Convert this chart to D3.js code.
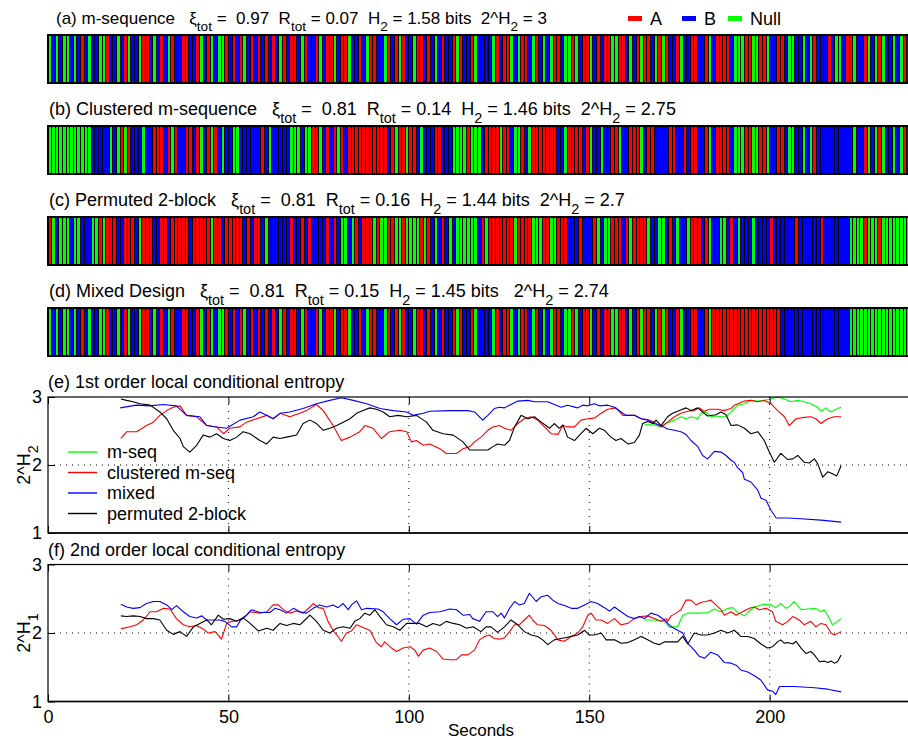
<!DOCTYPE html>
<html><head><meta charset="utf-8">
<script src="https://cdn.jsdelivr.net/npm/d3@7"></script>
<style>
body{margin:0;background:#fff}
svg text{font-family:"Liberation Sans",Arial,Helvetica,sans-serif;fill:#000}
</style></head>
<body><svg id="c" width="908" height="740"></svg>
<script>
// ---------------- DATA ----------------
// Stimulus sequences, one letter per second (R = A, B = B, G = Null)
const seqMseq = ("GBGBGGBGBR"+"BGBBGGRBBG"+"BRGBBGRRBG"+"BRBGRBBRRB"+"BRGBRGBGGR"+"BRBRGBRBRB"+
  "RBRBGRBRRB"+"GRBBRGBRRG"+"BRRGBBRBGR"+"RBBGRBRGRB"+"BGRRBRBGBR"+"BBRGRBBRGB"+
  "BBBGRBRRGB"+"GRRBGRBGBG"+"RRBGGRGBRR"+"GBRBRRGGRR"+"BGBRGRRBGR"+"GRBBRGBBRR"+
  "BBRGBRRRRB"+"GGGRRGGRRG"+"BBRRBGGBBG"+"BGRBBBRBGG"+"BRRGBBRGBG"+"RGBBGBGRBG").split("");
const seqClustered = ("GGGGGGGGGG"+"GGBBBBBGBG"+"RGRBBBGBBR"+"RRBRGRBBRR"+"BRGBRGRBGB"+"BGGBBBBBBR"+
  "BGBBBBBGGG"+"BGGRRGBRBR"+"GRBRRRRRRR"+"RRRRBRGRRG"+"RRBGBBBRRB"+"BBGGGGRGGG"+
  "BRRRRGRRBG"+"GRBGRRRRRR"+"RBBGRRRRBR"+"GBBGBBRRGB"+"BRRRGBRRBB"+"BBRRBBRBRR"+
  "BBRGBRRRRB"+"GGGRRGGRRG"+"BBRRBGGBBG"+"BGRBBBBBBB"+"BBBGBBRGBG"+"RGBBGBGRBG").split("");
const seqPermuted = ("RGBGGGBGGB"+"BBGGRGRRRB"+"BRRRBGRRRB"+"BRRBRRRRRB"+"RRRRRGRRBR"+"RRRRBRBRRB"+
  "GBBBBBBRBB"+"RBRBBBBRBR"+"BGGBGRBRRR"+"GRGGRRGGRG"+"GGGRGRBGBR"+"BGBGGGGGGB"+
  "RGRRRRRRRG"+"RRRRGGGRRG"+"GRRRBBBRBB"+"BRGBGGRRRB"+"RGRRRRGBBG"+"GBRBGBBGRR"+
  "RBRGBBGGBR"+"BGBBBGBBBB"+"RBBBBBBRBB"+"BBBBRBBBBB"+"BBGGGGRGGG"+"RGGGGGGGGG").split("");
const seqMixed = ("GBGBGGBGBR"+"BGBBGGRBBG"+"BRGBBGRRBG"+"BRBGRBBRRB"+"BRGBRGBGGR"+"BRBRGBRBRB"+
  "RBRBGRBRRB"+"GRBBRGBRRG"+"BRRGBBRBGR"+"RBBGRBRGRB"+"BGRRBRBGBR"+"BBRGRBBRGB"+
  "BBBGRBRRGB"+"GRRBGRBGBG"+"RRBGGRGBRR"+"GBRBRRGGRR"+"BGBRGRRBGR"+"GRBBRGBBRR"+
  "BBRGRRRRRR"+"RRRRRRRRRR"+"RRRBBBBBBB"+"BBBBBBBBBB"+"BBGGGGGGGG"+"GGGGGGGGGG").split("");

const timeTicks = [0, 50, 100, 150, 200];
const entTicks = [1, 2, 3];
const seriesNames = ["m-seq", "clustered m-seq", "mixed", "permuted 2-block"];
const stateNames = ["A", "B", "Null"];

// (e) 1st order local conditional entropy, [seconds, 2^H2]
const eMseq = [[165.3,2.59],[168,2.59],[169.9,2.56],[171.7,2.62],[173.6,2.66],[175.4,2.71],[176.8,2.68],[178.2,2.71],[180.1,2.68],[181,2.76],[182.4,2.78],[183.7,2.71],[185.1,2.72],[186.5,2.71],[187.9,2.71],[189.3,2.78],[191.1,2.88],[193,2.9],[194.8,2.95],[196.7,2.94],[198.5,2.95],[200.4,2.97],[202.2,3.0],[204.1,2.97],[205.9,2.93],[207.8,2.95],[209.6,2.93],[211.4,2.9],[213.3,2.85],[214.2,2.79],[215.6,2.84],[217,2.78],[218.4,2.82],[219.8,2.85]];
const eClustered = [[20.2,2.39],[21.8,2.49],[24.6,2.49],[27.3,2.58],[29.2,2.63],[31,2.73],[32.9,2.8],[34.7,2.85],[36.6,2.87],[38.4,2.73],[41.2,2.71],[44,2.58],[46.7,2.56],[48.6,2.46],[50.4,2.54],[53.2,2.56],[55,2.63],[57.8,2.68],[60.6,2.73],[62.4,2.68],[64.3,2.76],[67,2.71],[69.8,2.76],[71.6,2.8],[74.4,2.89],[76.3,2.8],[79,2.58],[81.3,2.36],[83.7,2.41],[86.4,2.49],[87.8,2.58],[90.1,2.54],[92.4,2.39],[94.7,2.49],[97.5,2.51],[99.4,2.49],[100.7,2.34],[102.1,2.36],[104,2.29],[105.8,2.31],[108.6,2.24],[110.4,2.17],[113.2,2.17],[115,2.24],[116.9,2.27],[118.2,2.34],[120,2.41],[121.9,2.51],[123.3,2.56],[125.1,2.58],[126.5,2.54],[128.3,2.51],[130.2,2.61],[132,2.68],[133.9,2.71],[135.7,2.66],[137.6,2.56],[139.4,2.46],[141.3,2.45],[142.7,2.58],[144,2.56],[145.9,2.56],[147.7,2.66],[149.6,2.68],[151.4,2.69],[153.3,2.76],[155.1,2.82],[157.4,2.84],[159.3,2.73],[162.5,2.73],[164.4,2.68],[166.2,2.67],[168,2.63],[169.9,2.56],[171.7,2.63],[173.6,2.71],[175.4,2.76],[177.3,2.79],[179.1,2.8],[180.5,2.84],[181.9,2.79],[183.3,2.82],[185.6,2.82],[187.4,2.8],[189.3,2.83],[190.2,2.88],[193,2.94],[194.8,2.95],[196.7,2.93],[198.5,2.95],[200.4,2.9],[202.2,2.8],[204.1,2.71],[205.4,2.58],[207.3,2.68],[209.6,2.7],[211.4,2.71],[212.8,2.68],[214.2,2.61],[216.1,2.68],[217.9,2.71],[219.8,2.71]];
const eMixed = [[20,2.84],[24.5,2.88],[28.3,2.87],[31.9,2.89],[35.6,2.87],[38.4,2.73],[42.1,2.71],[44,2.58],[46.7,2.56],[49.5,2.54],[53.2,2.66],[56.9,2.71],[58.7,2.78],[60.6,2.73],[62.4,2.68],[64.3,2.76],[67,2.78],[70.7,2.83],[74.4,2.9],[78.1,2.95],[81.3,2.99],[84.6,2.95],[88.3,2.9],[92,2.83],[95.7,2.8],[99.4,2.78],[101.2,2.73],[104,2.76],[105.8,2.79],[111.4,2.8],[116.3,2.8],[118.2,2.78],[120.5,2.66],[121.9,2.73],[123.7,2.83],[125.1,2.85],[126.5,2.84],[128.3,2.89],[130.2,2.94],[133,2.95],[134.8,2.93],[138.5,2.93],[140.3,2.89],[142.2,2.85],[144,2.88],[146.8,2.84],[148.2,2.88],[149.6,2.87],[151.4,2.9],[152.8,2.87],[155.1,2.88],[157,2.85],[158.8,2.78],[160.2,2.73],[162.5,2.73],[164.4,2.68],[166.2,2.66],[168,2.61],[169.9,2.58],[171.7,2.53],[173.6,2.51],[175.4,2.49],[176.8,2.45],[178.2,2.36],[180.1,2.27],[181.4,2.14],[182.8,2.09],[184.7,2.2],[186.5,2.19],[187.9,2.14],[189.3,2.07],[190.2,2.04],[191.1,1.96],[192.5,1.89],[193,1.79],[194.8,1.75],[196.7,1.63],[197.6,1.51],[199,1.48],[200.4,1.33],[201.8,1.22],[205,1.22],[208.7,1.21],[214.2,1.19],[219.8,1.16]];
const ePermuted = [[20.2,2.97],[21.8,2.95],[23.6,2.93],[25.5,2.9],[28.3,2.88],[31,2.78],[32.9,2.68],[34.7,2.51],[36.6,2.39],[37.5,2.27],[39.3,2.19],[41.2,2.29],[43,2.44],[44.9,2.41],[46.7,2.46],[48.6,2.39],[50.4,2.36],[52.3,2.41],[54.1,2.49],[56,2.46],[58.7,2.36],[60.6,2.31],[62.4,2.41],[64.3,2.39],[66.1,2.41],[68.9,2.44],[70.7,2.61],[72.6,2.66],[74.4,2.61],[76.3,2.51],[78.1,2.54],[80,2.58],[81.8,2.63],[83.7,2.68],[85.5,2.76],[87.3,2.8],[89.2,2.84],[91,2.82],[92.9,2.78],[94.7,2.71],[97,2.73],[99.4,2.71],[102.1,2.73],[104.9,2.63],[106.7,2.51],[109.5,2.46],[112.3,2.44],[115,2.34],[116.9,2.22],[118.2,2.22],[121.9,2.22],[123.3,2.27],[124.6,2.31],[126.5,2.29],[127.9,2.36],[129.3,2.56],[131.1,2.73],[133,2.68],[134.8,2.71],[136.7,2.63],[138,2.58],[139,2.54],[140.3,2.61],[141.7,2.54],[142.7,2.59],[144,2.41],[145.9,2.36],[147.7,2.46],[149.1,2.54],[151,2.46],[152.8,2.54],[154.2,2.51],[156,2.41],[157.4,2.36],[158.8,2.39],[160.7,2.31],[162.5,2.33],[163.9,2.44],[164.8,2.61],[166.2,2.64],[167.6,2.61],[168.5,2.66],[169.9,2.58],[171.7,2.71],[173.1,2.76],[175,2.8],[176.8,2.84],[178.2,2.8],[180.1,2.84],[181.4,2.78],[182.8,2.72],[185.1,2.74],[186.5,2.78],[187.9,2.74],[189.3,2.58],[191.1,2.59],[193,2.54],[194.8,2.46],[196.7,2.49],[198.5,2.36],[199.9,2.19],[201.3,2.04],[203.1,2.17],[205,2.08],[206.4,2.09],[207.8,2.14],[209.6,2.04],[211,2.03],[212.4,2.09],[213.3,2.02],[214.7,1.82],[216.1,1.9],[217.4,1.87],[218.6,1.84],[219.8,1.99]];

// (f) 2nd order local conditional entropy, [seconds, 2^H1]
const fMseq = [[165.3,2.19],[168,2.19],[170.8,2.17],[172.2,2.09],[174.5,2.09],[175.9,2.26],[177.3,2.29],[181,2.29],[182.8,2.3],[184.7,2.35],[186.5,2.31],[188.4,2.36],[189.8,2.37],[191.1,2.3],[193,2.25],[194.8,2.34],[195.7,2.38],[197.1,2.4],[198.5,2.42],[200.4,2.41],[201.7,2.37],[203.1,2.43],[204.5,2.36],[205.4,2.38],[206.8,2.46],[208.7,2.34],[210.5,2.35],[212.8,2.36],[214.2,2.31],[215.1,2.34],[216.1,2.26],[217.4,2.12],[218.8,2.17],[219.8,2.21]];
const fClustered = [[20.2,2.06],[22.7,2.09],[24.6,2.12],[26.4,2.19],[28.3,2.31],[30.1,2.31],[32,2.36],[33.8,2.35],[35.6,2.21],[37.5,2.12],[39.3,2.09],[41.2,2.11],[43,2.06],[44.4,2.0],[46.3,2.02],[48.1,1.91],[49.5,2.14],[50.9,2.17],[52.3,2.18],[54.1,2.21],[56,2.31],[58.7,2.29],[60.6,2.31],[62.4,2.41],[63.8,2.41],[65.2,2.34],[67,2.29],[68.9,2.32],[70.7,2.29],[72.6,2.38],[73.5,2.43],[74.9,2.37],[76.3,2.36],[77.6,2.17],[79,2.04],[81.3,1.88],[82.7,2.0],[84.1,2.03],[85.5,2.12],[87.3,2.08],[89.2,2.04],[91,1.86],[92.4,1.8],[93.3,1.87],[95.2,1.78],[96.6,1.73],[98.4,1.78],[100.3,1.8],[101.7,1.75],[102.6,1.66],[104,1.75],[105.8,1.78],[107.7,1.73],[109.5,1.62],[111.4,1.61],[113.2,1.61],[114.6,1.68],[116.3,1.68],[118.2,1.75],[119.6,1.9],[121,1.95],[122.3,1.97],[123.7,1.92],[125.1,1.91],[126.5,1.93],[127.9,2.02],[129.3,2.12],[130.6,2.12],[132,2.19],[133.4,2.26],[134.3,2.19],[135.7,2.12],[137.6,2.11],[139.4,2.04],[141.3,1.9],[143.1,1.88],[145,1.95],[146.8,2.0],[148.2,2.09],[149.6,2.26],[150.5,2.29],[151.9,2.19],[153.3,2.19],[155.1,2.14],[157,2.21],[158.8,2.12],[160.7,2.14],[162.5,2.21],[164.4,2.24],[166.2,2.25],[168,2.21],[169.9,2.17],[171.3,2.21],[171.7,2.17],[172.7,2.25],[174.1,2.29],[175.4,2.34],[176.8,2.48],[178.2,2.48],[179.6,2.41],[181,2.45],[182.4,2.46],[183.7,2.48],[185.1,2.41],[186.5,2.34],[187.4,2.26],[189.3,2.31],[190.7,2.26],[192.5,2.31],[194.4,2.36],[195.7,2.38],[197.1,2.34],[199,2.36],[200.8,2.31],[201.7,2.17],[203.6,2.12],[205,2.17],[206.4,2.24],[208.2,2.19],[209.6,2.12],[211.4,2.17],[212.8,2.09],[214.2,2.14],[215.6,2.12],[217,2.0],[217.9,1.97],[219.8,2.02]];
const fMixed = [[20.2,2.42],[21.8,2.38],[23.6,2.36],[25.5,2.37],[27.3,2.43],[29.2,2.46],[31,2.46],[32.9,2.41],[34.3,2.34],[35.6,2.4],[37.5,2.31],[39.3,2.24],[41.2,2.22],[42.6,2.25],[44,2.19],[47.6,2.19],[49,2.17],[50.9,2.09],[52.3,2.09],[53.6,2.21],[55,2.26],[56.4,2.34],[58.7,2.3],[61.5,2.3],[62.9,2.36],[64.3,2.34],[66.1,2.29],[68,2.36],[69.8,2.31],[71.6,2.29],[73.5,2.36],[75.3,2.41],[77.2,2.38],[79,2.41],[80.4,2.37],[81.8,2.43],[83.2,2.34],[84.1,2.41],[85.5,2.47],[86.9,2.34],[88.3,2.36],[91.5,2.35],[92.9,2.31],[94.7,2.21],[96.6,2.12],[98.4,2.2],[100.3,2.21],[102.1,2.13],[104,2.26],[105.8,2.3],[108.6,2.31],[111.4,2.35],[113.2,2.34],[115,2.26],[116.9,2.27],[117.7,2.21],[119.6,2.17],[121.4,2.31],[123.3,2.31],[124.6,2.24],[125.6,2.29],[126.5,2.22],[127.9,2.36],[129.3,2.46],[130.6,2.41],[132,2.43],[133.4,2.58],[135.3,2.46],[136.7,2.53],[138.5,2.55],[139.9,2.48],[141.3,2.43],[143.1,2.4],[145,2.36],[146.8,2.36],[148.7,2.41],[150.5,2.46],[152.3,2.43],[154.2,2.37],[155.6,2.32],[157,2.38],[158.8,2.31],[160.7,2.24],[162.5,2.21],[163.9,2.24],[165.3,2.21],[167.1,2.29],[169,2.26],[170.8,2.19],[172.7,2.09],[174.5,2.04],[175.9,2.0],[177.3,1.85],[179.1,1.75],[180.5,1.66],[181.9,1.63],[183.7,1.72],[185.6,1.68],[187.4,1.57],[189.3,1.56],[190.7,1.53],[192,1.46],[193.9,1.43],[195.7,1.38],[197.6,1.31],[199.4,1.17],[200.8,1.15],[201.7,1.1],[202.7,1.22],[206.8,1.22],[212.4,1.2],[216.1,1.18],[219.8,1.14]];
const fPermuted = [[20.2,2.25],[21.8,2.24],[23.6,2.25],[25.5,2.24],[27.3,2.21],[29.2,2.21],[31,2.19],[32.9,2.04],[34.7,1.98],[36.6,2.02],[38.4,1.95],[40.3,2.09],[42.1,2.14],[44,2.19],[45.3,2.12],[47.2,2.26],[48.6,2.2],[50.4,2.21],[52.3,2.17],[54.1,2.22],[56,2.14],[58.3,2.03],[60.6,2.07],[62.4,2.04],[64.3,2.14],[66.1,2.11],[68,2.14],[69.8,2.12],[71.2,2.19],[72.6,2.26],[74.4,2.17],[76.3,2.04],[78.1,2.0],[80,2.07],[81.8,2.09],[83.7,2.07],[85,2.17],[86.4,2.21],[87.8,2.29],[89.2,2.26],[90.6,2.34],[92,2.24],[93.8,2.12],[95.7,2.09],[97.5,2.04],[99.4,2.14],[103,2.14],[104.9,2.09],[106.7,2.14],[108.6,2.11],[110.4,2.17],[112.3,2.14],[114.1,2.12],[116,2.07],[117.8,2.09],[120,2.02],[121.4,2.09],[122.8,2.09],[124.6,2.01],[126.5,2.09],[128.3,2.19],[130.2,2.12],[132,2.02],[133.9,1.97],[135.7,1.95],[137.1,1.9],[138.5,1.83],[140.3,1.9],[142.2,1.92],[145,1.95],[146.8,1.97],[148.7,2.04],[150,1.97],[151.4,1.97],[153.3,2.0],[154.7,1.9],[157,1.9],[158.8,1.85],[160.7,1.86],[162.5,1.9],[164.4,1.95],[166.2,1.9],[168,1.85],[169.4,1.83],[170.8,1.87],[174.5,1.87],[175.9,1.95],[177.3,1.84],[179.1,2.0],[181,1.97],[182.8,1.97],[184.7,2.0],[186.5,2.04],[188.4,2.0],[190.2,2.04],[192,1.95],[193.9,1.95],[195.7,1.92],[197.6,1.84],[199.4,1.78],[200.8,1.8],[202.2,1.87],[203.1,1.9],[204.1,1.85],[205,1.86],[206.4,1.84],[207.3,1.88],[208.7,1.78],[210.1,1.7],[211.4,1.73],[212.4,1.68],[213.8,1.58],[215.1,1.59],[216.1,1.57],[217,1.59],[217.9,1.56],[218.8,1.58],[219.8,1.68]];

// ---------------- DRAWING ----------------
const svg = d3.select("#c");
const FS = 18;
const stateColor = {R: "#ff0000", B: "#0000ff", G: "#00ff00"};
const legendColor = ["#ff0000", "#0000ff", "#00ff00"];
const lineColor = ["#00ff00", "#ff0000", "#0000ff", "#000000"];

const x = d3.scaleLinear().domain([0, 240]).range([48, 914]);

function rich(sel, px, py, parts, fs, anchor) {
  const t = sel.append("text").attr("x", px).attr("y", py)
    .attr("font-size", fs).style("white-space", "pre");
  if (anchor) t.attr("text-anchor", anchor);
  let down = false;
  parts.forEach(p => {
    const sp = t.append("tspan").text(p[0]);
    if (p[1] && !down) { sp.attr("dy", fs * 0.42).attr("font-size", fs * 0.8); down = true; }
    else if (p[1]) { sp.attr("font-size", fs * 0.8); }
    else if (down) { sp.attr("dy", -fs * 0.42); down = false; }
  });
  return t;
}

// Sequence bars
const bars = [
  {seq: seqMseq, top: 35, tx: 56, ty: 24, fs: 17, parts: [["(a) m-sequence   ξ"],["tot",1],[" =  0.97  R"],["tot",1],[" = 0.07  H"],["2",1],[" = 1.58 bits  2^H"],["2",1],[" = 3"]]},
  {seq: seqClustered, top: 126, tx: 49, ty: 115, fs: 18, parts: [["(b) Clustered m-sequence   ξ"],["tot",1],[" =  0.81  R"],["tot",1],[" = 0.14  H"],["2",1],[" = 1.46 bits  2^H"],["2",1],[" = 2.75"]]},
  {seq: seqPermuted, top: 217, tx: 49, ty: 206, fs: 18, parts: [["(c) Permuted 2-block   ξ"],["tot",1],[" =  0.81  R"],["tot",1],[" = 0.16  H"],["2",1],[" = 1.44 bits  2^H"],["2",1],[" = 2.7"]]},
  {seq: seqMixed, top: 308, tx: 49, ty: 297, fs: 18, parts: [["(d) Mixed Design   ξ"],["tot",1],[" =  0.81  R"],["tot",1],[" = 0.15  H"],["2",1],[" = 1.45 bits   2^H"],["2",1],[" = 2.74"]]}
];
const barH = 48;
bars.forEach(b => {
  const g = svg.append("g").attr("shape-rendering", "crispEdges");
  g.selectAll("rect.cell").data(b.seq).join("rect").attr("class", "cell")
    .attr("x", (d, j) => x(j)).attr("y", b.top)
    .attr("width", (d, j) => x(j + 1) - x(j)).attr("height", barH)
    .attr("fill", d => stateColor[d]);
  g.selectAll("line.sep").data(d3.range(1, b.seq.length)).join("line").attr("class", "sep")
    .attr("x1", j => x(j)).attr("x2", j => x(j))
    .attr("y1", b.top).attr("y2", b.top + barH)
    .attr("stroke", "#000").attr("stroke-width", 1);
  g.append("rect").attr("x", x(0)).attr("y", b.top).attr("width", x(240) - x(0)).attr("height", barH)
    .attr("fill", "none").attr("stroke", "#000").attr("stroke-width", 1.2);
  rich(svg, b.tx, b.ty, b.parts, b.fs);
});

// top legend for states
const lg = svg.append("g");
const legX = [628, 682, 728];
stateNames.forEach((n, i) => {
  lg.append("rect").attr("x", legX[i]).attr("y", 16).attr("width", 14).attr("height", 5).attr("fill", legendColor[i]);
  lg.append("text").attr("x", legX[i] + 22).attr("y", 25).attr("font-size", FS).text(n);
});

// Entropy panels
function panel(top, bottom, series, title, sub, showX, legend) {
  const y = d3.scaleLinear().domain([1, 3]).range([bottom, top]);
  const g = svg.append("g");
  g.selectAll("line.vg").data(timeTicks.filter(d => d > 0)).join("line")
    .attr("x1", d => x(d)).attr("x2", d => x(d)).attr("y1", top).attr("y2", bottom)
    .attr("stroke", "#000").attr("stroke-width", 1).attr("stroke-dasharray", "1,6");
  g.append("line").attr("x1", x(0)).attr("x2", x(240)).attr("y1", y(2)).attr("y2", y(2))
    .attr("stroke", "#000").attr("stroke-width", 1).attr("stroke-dasharray", "1,5");
  const line = d3.line().x(d => x(d[0])).y(d => y(d[1]));
  series.forEach((s, i) => {
    g.append("path").datum(s).attr("d", line).attr("fill", "none")
      .attr("stroke", lineColor[i]).attr("stroke-width", 1.1).attr("stroke-linejoin", "round");
  });
  g.append("rect").attr("x", x(0)).attr("y", top).attr("width", x(240) - x(0)).attr("height", bottom - top)
    .attr("fill", "none").attr("stroke", "#000").attr("stroke-width", 1.2);
  g.append("line").attr("x1", x(0)).attr("x2", x(240)).attr("y1", bottom).attr("y2", bottom)
    .attr("stroke", "#000").attr("stroke-width", 1.6);
  const ax = g.append("g").attr("transform", `translate(0,${bottom})`)
    .call(d3.axisBottom(x).tickValues(timeTicks).tickSize(-7).tickPadding(9)
      .tickFormat(showX ? d3.format("d") : ""));
  const axT = g.append("g").attr("transform", `translate(0,${top})`)
    .call(d3.axisTop(x).tickValues(timeTicks).tickSize(-7).tickFormat(""));
  const ay = g.append("g").attr("transform", `translate(${x(0)},0)`)
    .call(d3.axisLeft(y).tickValues(entTicks).tickSize(-7).tickPadding(6).tickFormat(d3.format("d")));
  [ax, axT, ay].forEach(a => {
    a.select(".domain").remove();
    a.selectAll("line").attr("stroke", "#000").attr("stroke-width", 1);
    a.selectAll("text").attr("font-size", FS).attr("font-family", null).attr("fill", "#000");
  });
  svg.append("text").attr("x", 48).attr("y", top - 9).attr("font-size", FS).text(title);
  const yl = svg.append("g").attr("transform", `translate(30,${(top + bottom) / 2}) rotate(-90)`);
  rich(yl, 0, 0, [["2^H"], [sub, 1]], FS, "middle");
  if (legend) {
    const lgd = svg.append("g");
    seriesNames.forEach((n, i) => {
      const yy = 452 + i * 20.5;
      lgd.append("line").attr("x1", 68).attr("x2", 97).attr("y1", yy).attr("y2", yy)
        .attr("stroke", lineColor[i]).attr("stroke-width", 1.4);
      lgd.append("text").attr("x", 107).attr("y", yy + 6).attr("font-size", FS).text(n);
    });
  }
  return y;
}

panel(397, 533, [eMseq, eClustered, eMixed, ePermuted], "(e) 1st order local conditional entropy", "2", false, true);
panel(564.5, 701.5, [fMseq, fClustered, fMixed, fPermuted], "(f) 2nd order local conditional entropy", "1", true, false);

svg.append("text").attr("x", x(120)).attr("y", 736).attr("text-anchor", "middle").attr("font-size", 17).text("Seconds");
</script>
</body></html>
